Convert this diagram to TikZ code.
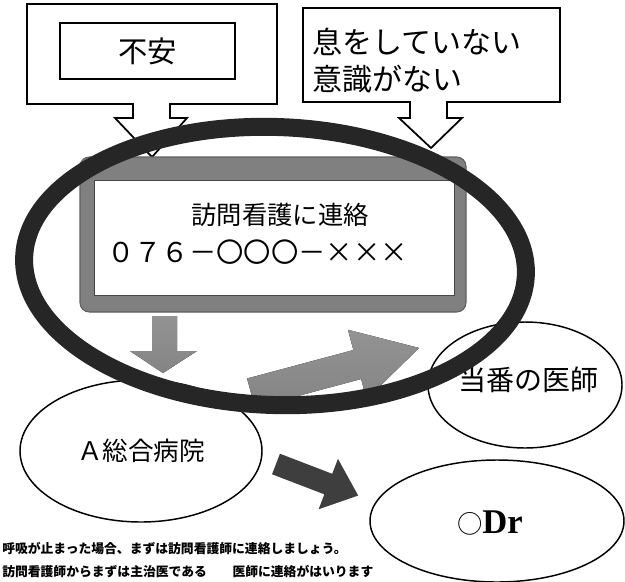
\documentclass[tikz,border=0pt]{standalone}
\usepackage{fontspec}
\setmainfont{Liberation Serif}
\newfontfamily\jp{Noto Sans CJK JP}
\usetikzlibrary{shapes.geometric}
\definecolor{ringc}{RGB}{38,38,38}
\definecolor{boxgray}{RGB}{128,128,128}
\definecolor{arrgray}{RGB}{120,120,120}
\definecolor{arrdark}{RGB}{62,62,62}
\tikzset{
  callout/.style={draw=black, fill=white, line width=1.3pt, line join=miter},
  innerbox/.style={draw=black, fill=white, line width=1pt, inner sep=0pt},
  oval/.style={ellipse, draw=black, fill=white, line width=1.1pt, inner sep=0pt},
  ringstyle/.style={draw=ringc, line width=13.5pt},
  blockgray/.style={top color=arrgray!80, bottom color=arrgray!110!black, draw=none},
  blockdark/.style={fill=arrdark, draw=none},
  jplabel/.style={inner sep=0pt, text=black},
}
\begin{document}
\begin{tikzpicture}[x=0.75pt,y=-0.75pt]
\useasboundingbox (0,0) rectangle (625,582);
\clip (0,0) rectangle (625,582);
\fill[white] (0,0) rectangle (625,582);

% left callout
\draw[callout] (27,4) -- (277,4) -- (277,104) -- (170,104) -- (170,118) -- (187,118)
  -- (152,157) -- (115,118) -- (133,118) -- (133,104) -- (27,104) -- cycle;
\node[innerbox, minimum width=131.25pt, minimum height=42pt,
  font=\jp\fontsize{22}{26}\selectfont] (anxiety) at (147.5,51) {不安};

% right callout
\draw[callout] (303,8) -- (560,8) -- (560,102) -- (447,102) -- (447,118) -- (462,118)
  -- (431,148) -- (399,118) -- (410,118) -- (410,102) -- (303,102) -- cycle;
\node[jplabel, anchor=west, font=\jp\fontsize{22.5}{26}\selectfont] (nobreath) at (312,42) {息をしていない};
\node[jplabel, anchor=west, font=\jp\fontsize{22.5}{26}\selectfont] (noconsc) at (312,79) {意識がない};

% gray framed box
\node[draw=boxgray!75!black, line width=0.8pt, fill=boxgray, rounded corners=7pt,
  minimum width=289.5pt, minimum height=116.25pt, inner sep=0pt] (frame) at (273,234.5) {};
\node[draw=boxgray!55!black, line width=0.6pt, fill=white,
  minimum width=270pt, minimum height=86.25pt, inner sep=0pt] (contact) at (274,237.5) {};
\node[jplabel, font=\jp\fontsize{19}{24}\selectfont] (contacttext) at (280,215) {訪問看護に連絡};
\node[jplabel, anchor=west, font=\jp\fontsize{20.5}{24}\selectfont] (phone) at (107,252) {０７６－〇〇〇－×××};

% down arrow
\coordinate (dstart) at (164.5,316);
\fill[blockgray] (152,316) -- (177,316) -- (177,351) -- (197,351) -- (163,373)
  -- (130,351) -- (152,351) -- cycle;

% ellipses
\node[oval, minimum width=181.5pt, minimum height=106.5pt,
  font=\jp\fontsize{19.2}{22}\selectfont] (hosp) at (141,451) {Ａ総合病院};
\node[oval, minimum width=145.5pt, minimum height=94.5pt] (duty) at (525,385) {};
\node[jplabel, font=\jp\fontsize{21}{24}\selectfont] (dutytext) at (528,380) {当番の医師};
\node[oval, minimum width=190.5pt, minimum height=91.5pt] (dr) at (497,521) {};
\node[jplabel] (drtext) at (490,523) {{\jp\fontsize{19}{24}\selectfont ○}{\fontsize{26}{28}\selectfont\bfseries Dr}};

% gray arrow to duty doctor
\coordinate (gtail) at (251,393);
\begin{scope}[shift={(gtail)}, rotate=15]
  \fill[blockgray] (0,-15) -- (110,-15) -- (110,-36) -- (174,0) -- (110,36) -- (110,15) -- (0,15) -- cycle;
\end{scope}

% dark arrow to Dr
\coordinate (dtail) at (276,464);
\begin{scope}[shift={(dtail)}, rotate=-21]
  \fill[blockdark] (0,-11) -- (56,-11) -- (56,-27) -- (88,0) -- (56,27) -- (56,11) -- (0,11) -- cycle;
\end{scope}

% big ring
\coordinate (ringc) at (275,266);
\draw[ringstyle, rotate around={-2:(ringc)}] (ringc) ellipse [x radius=251, y radius=139];

% bottom text
\node[jplabel, anchor=west, font=\jp\bfseries\fontsize{9.6}{11}\selectfont] (note1) at (2,549)
  {呼吸が止まった場合、まずは訪問看護師に連絡しましょう。};
\node[jplabel, anchor=west, font=\jp\bfseries\fontsize{9.6}{11}\selectfont] (note2) at (2,572)
  {訪問看護師からまずは主治医である　　医師に連絡がはいります};
\end{tikzpicture}
\end{document}
